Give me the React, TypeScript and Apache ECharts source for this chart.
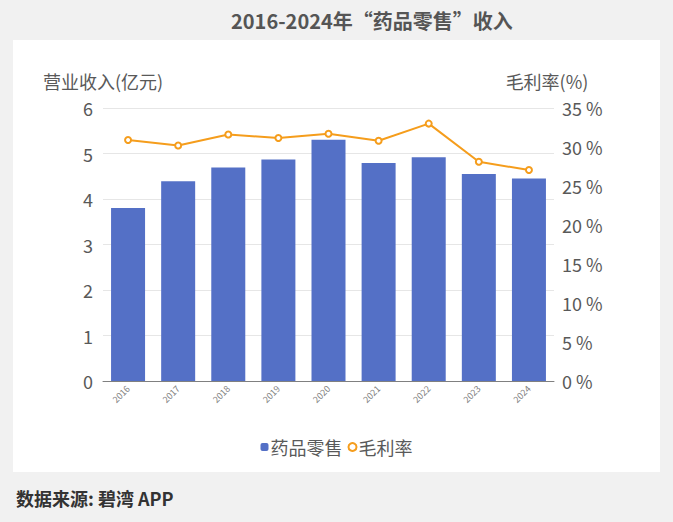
import React, { useEffect, useRef } from "react";
import * as echarts from "echarts";

const years = ["2016", "2017", "2018", "2019", "2020", "2021", "2022", "2023", "2024"];
const revenue = [3.8, 4.39, 4.69, 4.87, 5.3, 4.79, 4.92, 4.55, 4.45];
const grossMargin = [30.9, 30.2, 31.6, 31.15, 31.7, 30.8, 33.0, 28.1, 27.05];

const FONT = "'Noto Sans CJK SC', 'Noto Sans', sans-serif";

export default function App() {
  const ref = useRef<HTMLDivElement>(null);
  useEffect(() => {
    if (!ref.current) return;
    const chart = echarts.init(ref.current, undefined, { renderer: "svg" });
    chart.setOption({
      animation: false,
      backgroundColor: "#f1f1f1",
      textStyle: { fontFamily: FONT },
      title: {
        text: "2016-2024年“药品零售”收入",
        left: 226,
        top: 5,
        textStyle: { fontSize: 20, fontWeight: "bold", color: "#555555", fontFamily: FONT },
      },
      graphic: [
        {
          type: "rect",
          z: -10,
          silent: true,
          shape: { x: 13, y: 40, width: 647, height: 432 },
          style: { fill: "#ffffff" },
        },
        {
          type: "text",
          left: 16,
          top: 489,
          style: {
            text: "数据来源: 碧湾 APP",
            fontSize: 18,
            fontWeight: "bold",
            fill: "#333333",
            fontFamily: FONT,
          },
        },
      ],
      legend: {
        top: 433,
        left: "center",
        itemWidth: 8,
        itemHeight: 8,
        itemGap: 5,
        textStyle: { fontSize: 18, color: "#595959", padding: [0, 0, 0, -3] },
        data: [
          { name: "药品零售", icon: "roundRect", itemStyle: { color: "#5470c6" } },
          { name: "毛利率", icon: "emptyCircle" },
        ],
      },
      grid: { left: 103, right: 119, top: 108, bottom: 141 },
      xAxis: {
        type: "category",
        data: years,
        axisTick: { show: false },
        axisLine: { lineStyle: { color: "#808080", width: 1 } },
        axisLabel: { rotate: 45, fontSize: 9, color: "#7f7f7f", interval: 0, margin: 6 },
      },
      yAxis: [
        {
          type: "value",
          min: 0,
          max: 6,
          interval: 1,
          name: "营业收入(亿元)",
          nameLocation: "end",
          nameGap: 18,
          nameTextStyle: { fontSize: 18, color: "#595959", align: "center" },
          axisLabel: { fontSize: 18, color: "#595959", margin: 10 },
          splitLine: { lineStyle: { color: "#e6e6e6" } },
          axisLine: { show: false },
          axisTick: { show: false },
        },
        {
          type: "value",
          min: 0,
          max: 35,
          interval: 5,
          name: "毛利率(%)",
          nameLocation: "end",
          nameGap: 18,
          nameTextStyle: { fontSize: 18, color: "#595959", align: "center", padding: [0, 14, 0, 0] },
          axisLabel: { fontSize: 18, color: "#595959", margin: 8, formatter: "{value} %" },
          splitLine: { show: false },
          axisLine: { show: false },
          axisTick: { show: false },
        },
      ],
      series: [
        {
          name: "药品零售",
          type: "bar",
          data: revenue,
          barWidth: 34,
          itemStyle: { color: "#5470c6" },
        },
        {
          name: "毛利率",
          type: "line",
          yAxisIndex: 1,
          data: grossMargin,
          symbol: "emptyCircle",
          symbolSize: 6,
          lineStyle: { color: "#f59d1c", width: 2 },
          itemStyle: { color: "#f59d1c", borderWidth: 1.5 },
        },
      ],
    });
    return () => chart.dispose();
  }, []);
  return (
    <div
      ref={ref}
      style={{ position: "fixed", left: 0, top: 0, width: 673, height: 522 }}
    />
  );
}
